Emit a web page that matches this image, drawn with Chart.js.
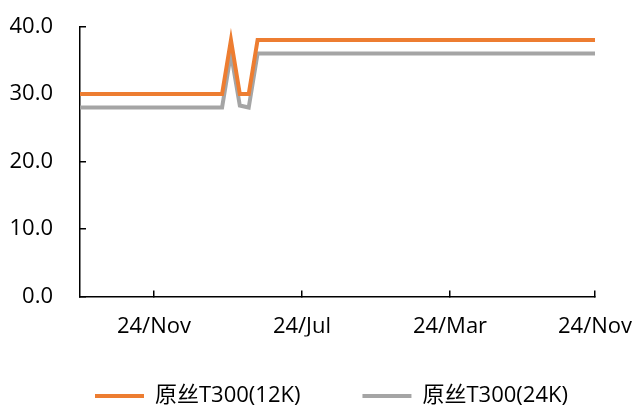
<!DOCTYPE html>
<html>
<head>
<meta charset="utf-8">
<script src="https://cdn.jsdelivr.net/npm/chart.js@4/dist/chart.umd.min.js"></script>
<style>
  html, body { margin: 0; padding: 0; background: #fff; }
  #wrap { width: 637px; height: 407px; }
</style>
</head>
<body>
<div id="wrap"><canvas id="priceChart" width="637" height="407"></canvas></div>
<script>
// series names
const seriesNames = ['原丝T300(12K)', '原丝T300(24K)'];

// values per period
const t300_12k = [
  30, 30, 30, 30, 30, 30, 30, 30, 30, 30,
  30, 30, 30, 30, 30, 30, 30, 38, 30, 30,
  38, 38, 38, 38, 38, 38, 38, 38, 38, 38,
  38, 38, 38, 38, 38, 38, 38, 38, 38, 38,
  38, 38, 38, 38, 38, 38, 38, 38, 38, 38,
  38, 38, 38, 38, 38, 38, 38, 38, 38
];
const t300_24k = [
  28, 28, 28, 28, 28, 28, 28, 28, 28, 28,
  28, 28, 28, 28, 28, 28, 28, 36, 28.3, 28,
  36, 36, 36, 36, 36, 36, 36, 36, 36, 36,
  36, 36, 36, 36, 36, 36, 36, 36, 36, 36,
  36, 36, 36, 36, 36, 36, 36, 36, 36, 36,
  36, 36, 36, 36, 36, 36, 36, 36, 36
];

// x tick labels and where they sit (period index)
const xTickLabels = ['24/Nov', '24/Jul', '24/Mar', '24/Nov'];
const xTickAt = [8.33, 25, 41.67, 58];
const yTicks = [0, 10, 20, 30, 40];

const FONT = '"Open Sans", "Noto Sans CJK SC", sans-serif';

// legend: fixed height, one row, placed like the original
const legendPlace = {
  id: 'legendPlace',
  afterInit(chart) {
    const fit = chart.legend.fit;
    chart.legend.fit = function () {
      fit.call(this);
      this.height = 70.5;
    };
  },
  afterLayout(chart) {
    chart.legend.left = 33;
    chart.legend.right = 637;
    chart.legend.top = 323;
  }
};

let ctx = document.getElementById('priceChart').getContext('2d');

let chart = new Chart(ctx, {
  type: 'line',
  data: {
    datasets: [
      {
        label: seriesNames[0],
        data: t300_12k.map((v, i) => ({ x: i, y: v })),
        borderColor: '#ED7D31',
        backgroundColor: '#ED7D31',
        borderWidth: 4,
        pointRadius: 0,
        tension: 0,
        order: 1
      },
      {
        label: seriesNames[1],
        data: t300_24k.map((v, i) => ({ x: i, y: v })),
        borderColor: '#A5A5A5',
        backgroundColor: '#A5A5A5',
        borderWidth: 4,
        pointRadius: 0,
        tension: 0,
        order: 2
      }
    ]
  },
  options: {
    responsive: false,
    animation: false,
    layout: { padding: { left: 0, right: 42, top: 26.5, bottom: 0 } },
    scales: {
      x: {
        type: 'linear',
        min: 0,
        max: 58,
        afterBuildTicks: (scale) => {
          scale.ticks = xTickAt.map(v => ({ value: v }));
        },
        afterFit: (scale) => {
          scale.height = 40;
          scale.paddingLeft = 0;
          scale.paddingRight = 0;
        },
        ticks: {
          autoSkip: false,
          maxRotation: 0,
          padding: 23,
          color: '#000',
          font: { family: FONT, size: 22 },
          callback: (value, index) => xTickLabels[index]
        },
        grid: { drawOnChartArea: false, drawTicks: true, tickLength: -6, color: '#000', lineWidth: 1.5 },
        border: { color: '#000', width: 1.5 }
      },
      y: {
        min: 0,
        max: 40,
        afterBuildTicks: (scale) => {
          scale.ticks = yTicks.map(v => ({ value: v }));
        },
        afterFit: (scale) => {
          scale.width = 80;
          scale.paddingTop = 0;
          scale.paddingBottom = 0;
        },
        ticks: {
          padding: 33,
          color: '#000',
          font: { family: FONT, size: 22 },
          callback: (v) => v.toFixed(1)
        },
        grid: { drawOnChartArea: false, drawTicks: true, tickLength: -6, color: '#000', lineWidth: 1.5 },
        border: { color: '#000', width: 1.5 }
      }
    },
    plugins: {
      tooltip: { enabled: false },
      legend: {
        position: 'bottom',
        align: 'start',
        labels: {
          boxWidth: 49,
          boxHeight: 4,
          padding: 62,
          color: '#000',
          font: { family: FONT, size: 22 },
          generateLabels: (ch) => {
            let items = Chart.defaults.plugins.legend.labels.generateLabels(ch);
            items.forEach(it => { it.lineWidth = 0; });
            return items;
          }
        }
      }
    }
  },
  plugins: [legendPlace]
});
</script>
</body>
</html>
